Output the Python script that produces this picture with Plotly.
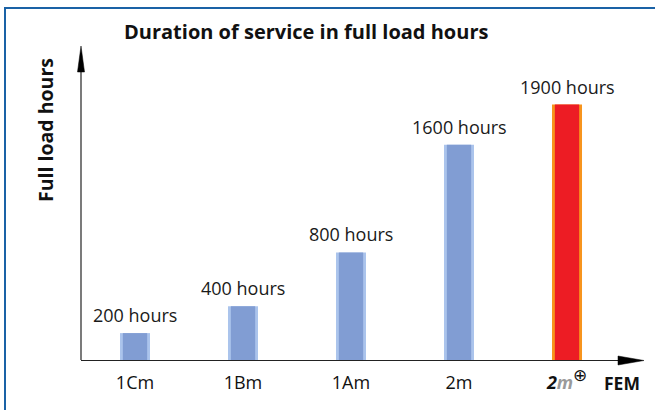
import plotly.graph_objects as go

categories = ["1Cm", "1Bm", "1Am", "2m", "2m⊕"]
hours = [200, 400, 800, 1600, 1900]
value_labels = ["200 hours", "400 hours", "800 hours", "1600 hours", "1900 hours"]
tick_labels = ["1Cm", "1Bm", "1Am", "2m",
               "<b><i>2</i></b><b><i><span style='color:#9a9a9a'>m</span></i></b>"
               "<sup><span style='font-size:17px'>⊕</span></sup>"]

W, H = 655, 410
ML, MR, MT, MB = 81, 18, 40, 50
PW, PH = W - ML - MR, H - MT - MB

def px(x):
    return (x - ML) / PW

def py(y):
    return (H - MB - y) / PH

xs = list(range(len(categories)))
main_col = ["#819dd3"] * 4 + ["#ed1c24"]
edge_col = ["#abc4ec"] * 4 + ["#f7941d"]

FONT = "Open Sans"

fig = go.Figure()
fig.add_trace(go.Bar(x=xs, y=hours, width=0.278, marker=dict(color=edge_col, line=dict(width=0)),
                     hoverinfo="skip", showlegend=False))
fig.add_trace(go.Bar(x=xs, y=hours, width=0.225, marker=dict(color=main_col, line=dict(width=0)),
                     showlegend=False))

for x, v, t in zip(xs, hours, value_labels):
    fig.add_annotation(x=x, y=v, text=t, showarrow=False, yanchor="bottom", yshift=4,
                       font=dict(size=18, color="#1a1a1a", family=FONT))

ax_col = "#222222"
shapes = [
    # y axis
    dict(type="line", xref="paper", yref="paper", x0=px(81), x1=px(81), y0=py(360), y1=py(70),
         line=dict(color=ax_col, width=1.2)),
    dict(type="path", xref="paper", yref="paper",
         path=f"M {px(77.5)} {py(72)} L {px(81)} {py(46)} L {px(84.5)} {py(72)} Z",
         fillcolor="black", line=dict(color="black", width=0.5)),
    # x axis
    dict(type="line", xref="paper", yref="paper", x0=px(81), x1=px(620), y0=py(360.5), y1=py(360.5),
         line=dict(color=ax_col, width=1.2)),
    dict(type="path", xref="paper", yref="paper",
         path=f"M {px(618)} {py(356)} L {px(644)} {py(360.5)} L {px(618)} {py(365)} Z",
         fillcolor="black", line=dict(color="black", width=0.5)),
    # frame
    dict(type="line", xref="paper", yref="paper", x0=px(5), x1=px(660), y0=py(8), y1=py(8),
         line=dict(color="#1a62a6", width=2)),
    dict(type="line", xref="paper", yref="paper", x0=px(5), x1=px(5), y0=py(7), y1=py(415),
         line=dict(color="#1a62a6", width=2)),
]

common = dict(xref="paper", yref="paper", showarrow=False, xanchor="center", yanchor="middle")
fig.add_annotation(x=px(306), y=py(31), text="<b>Duration of service in full load hours</b>",
                   font=dict(size=20, color="#111111", family=FONT), **common)
fig.add_annotation(x=px(45), y=py(130), text="<b>Full load hours</b>", textangle=-90,
                   font=dict(size=19.5, color="#111111", family=FONT), **common)
fig.add_annotation(x=px(622), y=py(383), text="<b>FEM</b>",
                   font=dict(size=17.5, color="#111111", family=FONT), **common)

fig.update_layout(
    width=W, height=H,
    margin=dict(l=ML, r=MR, t=MT, b=MB),
    plot_bgcolor="white", paper_bgcolor="white",
    barmode="overlay",
    shapes=shapes,
    xaxis=dict(range=[-0.5, -0.5 + PW / 108], tickvals=xs, ticktext=tick_labels,
               showgrid=False, zeroline=False, showline=False, ticks="",
               ticklabelstandoff=10,
               tickfont=dict(size=18, color="#111111", family=FONT), fixedrange=True),
    yaxis=dict(range=[0, 2380], visible=False, fixedrange=True),
)

fig.write_html("out.html", config={"displayModeBar": False},
               post_script="document.body.style.margin='0';document.body.style.padding='0';")
